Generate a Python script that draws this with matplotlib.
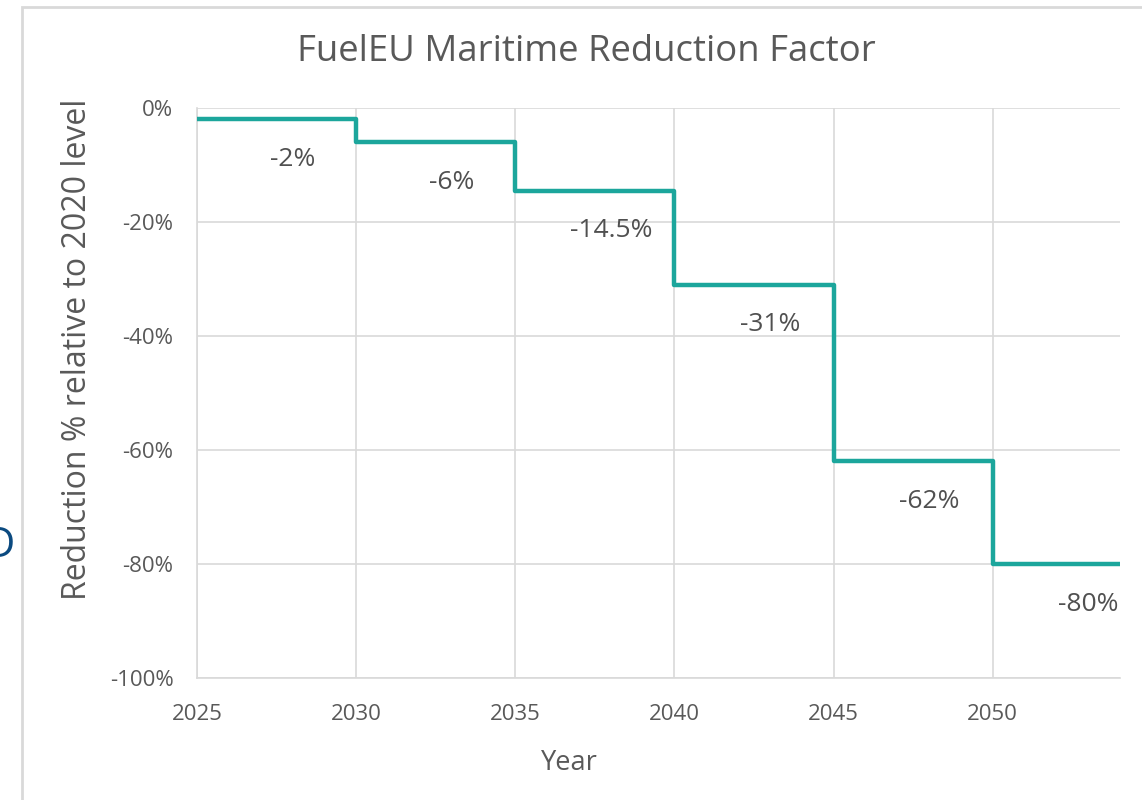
#!/usr/bin/env python3
# -*- coding: utf-8 -*-

import matplotlib
matplotlib.use("Agg")
import matplotlib.pyplot as plt
from matplotlib.patches import Rectangle

# Step start years and reduction values (%)
years = [2025, 2030, 2035, 2040, 2045, 2050]
reduction = [-2, -6, -14.5, -31, -62, -80]
end_year = 2054
labels = ["-2%", "-6%", "-14.5%", "-31%", "-62%", "-80%"]
y_ticks = [0, -20, -40, -60, -80, -100]
x_ticks = [2025, 2030, 2035, 2040, 2045, 2050]

TEAL = "#1ca69c"
GRID = "#d9d9d9"
TEXT = "#595959"


def main() -> None:
    plt.rcParams["font.family"] = ["Open Sans", "DejaVu Sans"]

    fig = plt.figure(figsize=(11.42, 8.0), dpi=100)
    ax = fig.add_axes([197 / 1142, 1 - 678 / 800, (1120 - 197) / 1142, (678 - 108) / 800])

    # Outer chart frame
    fig.patches.append(Rectangle((22 / 1142, -0.1), 1.2, 1.1 - 7 / 800,
                                 transform=fig.transFigure, fill=False,
                                 edgecolor=GRID, linewidth=2))

    # Step line
    xs = years + [end_year]
    ys = reduction + [reduction[-1]]
    ax.step(xs, ys, where="post", color=TEAL, linewidth=3.2, zorder=3)

    # Data labels below each step
    for yr, val, lab in zip(years, reduction, labels):
        ax.annotate(lab, (yr + 3, val), xytext=(0, -29), textcoords="offset points",
                    ha="center", va="center", fontsize=19, color="#505050")

    ax.set_xlim(2025, end_year)
    ax.set_ylim(-100, 0)
    ax.set_xticks(x_ticks)
    ax.set_yticks(y_ticks)
    ax.set_yticklabels([f"{v}%" for v in y_ticks])
    ax.grid(True, color=GRID, linewidth=1.2)
    ax.set_axisbelow(True)
    for side in ["top", "right"]:
        ax.spines[side].set_visible(False)
    for side in ["left", "bottom"]:
        ax.spines[side].set_color(GRID)
        ax.spines[side].set_linewidth(1.2)
    ax.tick_params(length=0, labelsize=16, labelcolor=TEXT)
    ax.tick_params(axis="y", pad=17)
    ax.tick_params(axis="x", pad=19)

    # Titles and axis labels
    fig.text(586 / 1142, 1 - 52 / 800, "FuelEU Maritime Reduction Factor",
             ha="center", va="center", fontsize=26.3, color=TEXT)
    fig.text(78 / 1142, 1 - 349 / 800, "Reduction % relative to 2020 level",
             ha="center", va="center", rotation=90, fontsize=23, color=TEXT)
    fig.text(569 / 1142, 1 - 763 / 800, "Year",
             ha="center", va="center", fontsize=19.5, color=TEXT)

    # Stray cut-off letter at the left edge
    fig.text(15 / 1142, 1 - 546 / 800, "D", ha="right", va="center",
             fontsize=30, color="#0b4a80")

    fig.savefig("out.png", dpi=100)


if __name__ == '__main__':
    main()
